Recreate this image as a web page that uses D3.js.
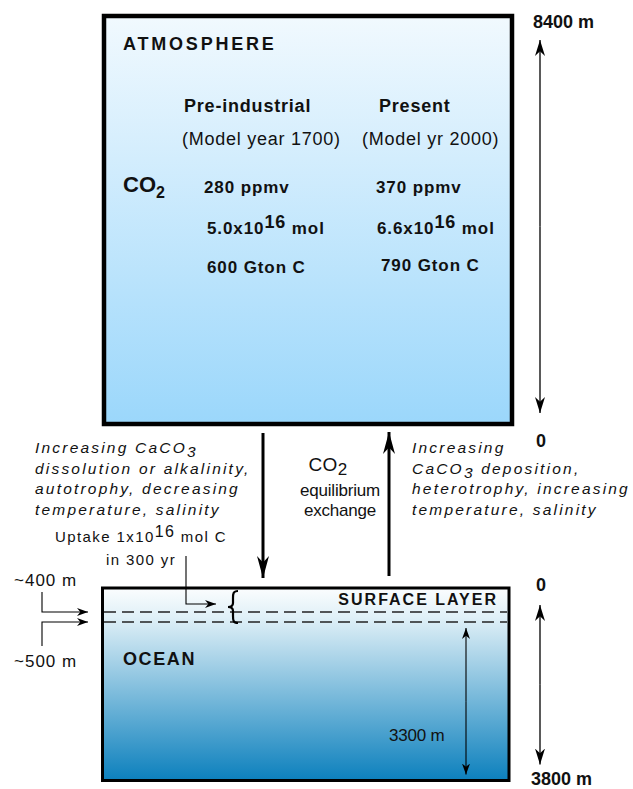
<!DOCTYPE html>
<html><head><meta charset="utf-8">
<script src="https://cdn.jsdelivr.net/npm/d3@7"></script>
<style>
body{margin:0;background:#fff}
svg{display:block}
text{font-family:"Liberation Sans",Arial,Helvetica,sans-serif;fill:#111}
</style>
</head><body>
<svg id="c" width="633" height="789"></svg>
<script>
// ---- data ----
const atmHeight = [0, 8400];              // m
const oceanDepth = [0, 400, 500, 3800];   // m
const columns = ["Pre-industrial", "Present"];
const modelYears = ["(Model year 1700)", "(Model yr 2000)"];
const ppmv = [280, 370];
const molMantissa = ["5.0", "6.6"];       // x10^16 mol
const gton = [600, 790];
const leftText = [["Increasing CaCO", "3", ""], ["dissolution or alkalinity,"], ["autotrophy, decreasing"], ["temperature, salinity"]];
const rightText = [["Increasing"], ["CaCO", "3", " deposition,"], ["heterotrophy, increasing"], ["temperature, salinity"]];

const svg = d3.select("#c");
const defs = svg.append("defs");

const gA = defs.append("linearGradient").attr("id","gA").attr("x1",0).attr("y1",0).attr("x2",0).attr("y2",1);
gA.append("stop").attr("offset","0%").attr("stop-color","#f1f9fe");
gA.append("stop").attr("offset","100%").attr("stop-color","#9bd7fb");
const gO = defs.append("linearGradient").attr("id","gO").attr("x1",0).attr("y1",0).attr("x2",0).attr("y2",1);
gO.append("stop").attr("offset","0%").attr("stop-color","#fbfdfe");
gO.append("stop").attr("offset","15%").attr("stop-color","#e0f0f7");
gO.append("stop").attr("offset","100%").attr("stop-color","#0c80bd");

function marker(id, w, l){
  defs.append("marker").attr("id",id).attr("markerUnits","userSpaceOnUse")
    .attr("viewBox",`0 ${-w} ${l} ${2*w}`).attr("refX",l).attr("refY",0)
    .attr("markerWidth",l).attr("markerHeight",2*w).attr("orient","auto")
    .append("path").attr("d",`M0,${-w} L${l},0 L0,${w} L${l*0.3},0 Z`).attr("fill","#000");
}
marker("mBig", 6, 22);
marker("mMed", 5, 16);
marker("mSm", 4, 11);

// ---- scales ----
const yA = d3.scaleLinear().domain(atmHeight).range([424, 16]);
const yO = d3.scaleLinear().domain(oceanDepth).range([588, 612, 622, 780.5]);

// ---- atmosphere box ----
svg.append("rect").attr("x",104).attr("y",yA(8400)).attr("width",408).attr("height",yA(0)-yA(8400))
  .attr("fill","url(#gA)").attr("stroke","#000").attr("stroke-width",4.5);

// ---- ocean box ----
svg.append("rect").attr("x",102.5).attr("y",yO(0)).attr("width",406.5).attr("height",yO(3800)-yO(0))
  .attr("fill","url(#gO)").attr("stroke","#000").attr("stroke-width",3);
[400, 500].forEach(d => {
  svg.append("line").attr("x1",104).attr("x2",507).attr("y1",yO(d)).attr("y2",yO(d))
    .attr("stroke","#222").attr("stroke-width",1.3).attr("stroke-dasharray","12,6");
});

// ---- scale arrows on the right ----
function dbl(x, y1, y2, m, sw){
  svg.append("line").attr("x1",x).attr("x2",x).attr("y1",(y1+y2)/2).attr("y2",y1)
    .attr("stroke","#000").attr("stroke-width",sw).attr("marker-end",`url(#${m})`);
  svg.append("line").attr("x1",x).attr("x2",x).attr("y1",(y1+y2)/2).attr("y2",y2)
    .attr("stroke","#000").attr("stroke-width",sw).attr("marker-end",`url(#${m})`);
}
dbl(540, yA(8400)+24, yA(0)-11, "mMed", 1.3);
dbl(540, yO(0)+17, yO(3800)-16, "mMed", 1.3);
dbl(466, yO(500)+6, yO(3800)-6, "mSm", 1.1);

function txt(x, y, s, size, opts={}){
  const t = svg.append("text").attr("x",x).attr("y",y).attr("font-size",size).text(s);
  if (opts.bold) t.attr("font-weight","bold");
  if (opts.italic) t.attr("font-style","italic");
  if (opts.ls!=null) t.attr("letter-spacing",opts.ls);
  if (opts.anchor) t.attr("text-anchor",opts.anchor);
  return t;
}
txt(533, 28, `${atmHeight[1]} m`, 18, {bold:true});
txt(541, yA(0)+23, `${atmHeight[0]}`, 18, {bold:true, anchor:"middle"});
txt(541, yO(0)+3, `${oceanDepth[0]}`, 18, {bold:true, anchor:"middle"});
txt(531, 785, `${oceanDepth[3]} m`, 18, {bold:true});
txt(389, 741, `${oceanDepth[3]-oceanDepth[2]} m`, 17, {ls:-0.2});

// ---- atmosphere text ----
txt(123, 50, "ATMOSPHERE", 18, {bold:true, ls:2.8});
txt(184, 112, columns[0], 18, {bold:true, ls:0.8});
txt(379, 112, columns[1], 18, {bold:true, ls:0.8});
txt(182, 145, modelYears[0], 18, {ls:0.75});
txt(362, 145, modelYears[1], 18, {ls:0.75});
const co = txt(123, 192, "CO", 22, {bold:true});
co.append("tspan").attr("dy",6).attr("font-size",16).text("2");

const colX = [[204, 207, 207], [376, 377, 381]];
const rowY = [193, 234, 273];
[0,1].forEach(i => {
  txt(colX[i][0], rowY[0], `${ppmv[i]} ppmv`, 17, {bold:true, ls:0.9});
  const t = txt(colX[i][1], rowY[1], `${molMantissa[i]}x10`, 17, {bold:true, ls:0.9});
  t.append("tspan").attr("dy",-6).attr("font-size",18).text("16");
  t.append("tspan").attr("dy",6).text(" mol");
  txt(colX[i][2], rowY[2] - (i?2:0), `${gton[i]} Gton C`, 17, {bold:true, ls:0.9});
});

// ---- exchange arrows ----
svg.append("line").attr("x1",263).attr("x2",263).attr("y1",433).attr("y2",578)
  .attr("stroke","#000").attr("stroke-width",3).attr("marker-end","url(#mBig)");
svg.append("line").attr("x1",389).attr("x2",389).attr("y1",576).attr("y2",432)
  .attr("stroke","#000").attr("stroke-width",3).attr("marker-end","url(#mBig)");

const c2 = txt(328, 471, "CO", 19, {anchor:"middle", ls:0.3});
c2.append("tspan").attr("dy",4).attr("font-size",17).text("2");
txt(340, 496, "equilibrium", 17, {anchor:"middle", ls:-0.2});
txt(340, 516, "exchange", 17, {anchor:"middle", ls:-0.2});

function italicBlock(x, lines){
  lines.forEach((ln, i) => {
    const t = svg.append("text").attr("x",x).attr("y",453 + i*20.5).attr("font-size",15.5)
      .attr("font-style","italic").attr("letter-spacing",2.2);
    t.append("tspan").text(ln[0]);
    if (ln.length > 1){
      t.append("tspan").attr("dy",4).text(ln[1]);
      t.append("tspan").attr("dy",-4).text(ln[2]);
    }
  });
}
italicBlock(35, leftText);
italicBlock(412, rightText);

// ---- uptake annotation ----
const up = txt(141, 542, "Uptake 1x10", 15, {anchor:"middle", ls:1.4});
up.append("tspan").attr("dy",-5).attr("font-size",16).text("16");
up.append("tspan").attr("dy",5).text(" mol C");
txt(141, 565, "in 300 yr", 15, {anchor:"middle", ls:1.4});
svg.append("path").attr("d",`M186,556 V${yO(0)+16} H216`).attr("fill","none")
  .attr("stroke","#000").attr("stroke-width",1.1).attr("marker-end","url(#mSm)");

// brace
const bt = yO(0)+3, bb = yO(500)+1, bm = (bt+bb)/2;
svg.append("path").attr("d",
  `M238,${bt} C233,${bt} 233,${bt+3} 233,${bt+7} L233,${bm-4} C233,${bm-1} 231,${bm} 228,${bm} C231,${bm} 233,${bm+1} 233,${bm+4} L233,${bb-7} C233,${bb-3} 233,${bb} 238,${bb}`)
  .attr("fill","none").attr("stroke","#000").attr("stroke-width",2.2);

txt(498, 605, "SURFACE LAYER", 16, {bold:true, ls:2, anchor:"end"});
txt(123, 665, "OCEAN", 18, {bold:true, ls:1.6});

// depth markers on left
txt(14, 586, `~${oceanDepth[1]} m`, 17, {ls:1});
txt(14, 667, `~${oceanDepth[2]} m`, 17, {ls:1});
svg.append("path").attr("d",`M42,592 V${yO(400)} H88`).attr("fill","none")
  .attr("stroke","#000").attr("stroke-width",1.1).attr("marker-end","url(#mSm)");
svg.append("path").attr("d",`M42,646 V${yO(500)} H88`).attr("fill","none")
  .attr("stroke","#000").attr("stroke-width",1.1).attr("marker-end","url(#mSm)");
</script>
</body></html>
